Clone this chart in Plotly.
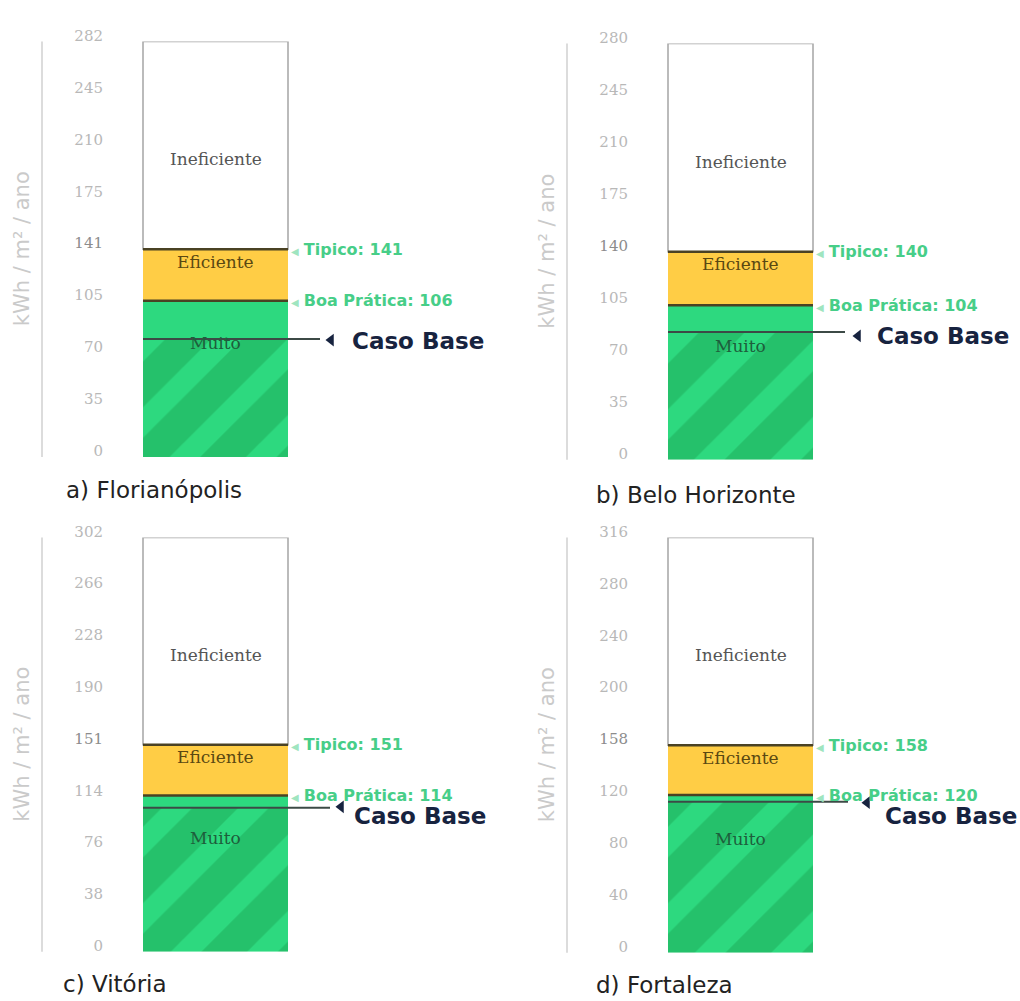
import plotly.graph_objects as go

# ---------------- data ----------------
cities = ["a) Florianópolis", "b) Belo Horizonte", "c) Vitória", "d) Fortaleza"]
axis_max = [282, 280, 302, 316]
tipico = [141, 140, 151, 158]
boa_pratica = [106, 104, 114, 120]
caso_base = [80, 86, 105, 115]
tick_labels = [
    [0, 35, 70, 105, 141, 175, 210, 245, 282],
    [0, 35, 70, 105, 140, 175, 210, 245, 280],
    [0, 38, 76, 114, 151, 190, 228, 266, 302],
    [0, 40, 80, 120, 158, 200, 240, 280, 316],
]
band_labels = ["Ineficiente", "Eficiente", "Muito"]
tipico_label = "Tipico"
boa_label = "Boa Prática"
caso_label = "Caso Base"
y_title = "kWh / m² / ano"

# ---------------- layout (pixels) ----------------
W, H = 1020, 1001
BAR_PX = 145.0
dom_x = [(104, 504), (629, 1020), (104, 504), (629, 1020)]
dom_y = [(27, 450), (29, 453), (532, 954), (532, 955)]
axis_line_px = [42, 567, 42, 567]
ytitle_px = [22, 547, 22, 547]
title_pos = [(64, 484), (594, 489), (61, 987), (594, 988)]
caso_line_ext = [32, 32, 42, 35]
caso_arrow_px = [43, 45, 53, 54]
caso_arrow_dy = [1, 4, -1, 1]      # pixels, positive = down
caso_text_px = [62, 62, 64, 70]
caso_text_dy = [2, 4, 8, 14]       # pixels, positive = down

C_LIGHT = "#2DD97F"
C_DARK = "#1DA957"
C_YELLOW = "#FFCD45"
C_BORDER = "#A5A5A5"
C_LINE = "#4A4224"
C_NAVY = "#17233F"
C_LABEL = "#47CE88"
SANS = "DejaVu Sans"
SERIF = "DejaVu Serif"

fig = go.Figure()
shapes = []
annotations = []
layout_axes = {}

for i in range(4):
    n = "" if i == 0 else str(i + 1)
    xa, ya = "x" + n, "y" + n
    x0p, x1p = dom_x[i]
    y0p, y1p = dom_y[i]
    units = (x1p - x0p) / BAR_PX
    xr0 = -0.5 - 39 / BAR_PX
    mx = axis_max[i]
    data_per_px = mx / (y1p - y0p)

    def px_units(p):
        return 0.5 + p / BAR_PX

    # stacked segments
    fig.add_trace(go.Bar(
        x=[0], y=[caso_base[i]], base=[0], width=1, xaxis=xa, yaxis=ya,
        marker=dict(color=C_LIGHT, line=dict(width=0),
                    pattern=dict(shape="/", fgcolor=C_DARK, bgcolor=C_LIGHT,
                                 size=54, solidity=0.6)),
        showlegend=False, hoverinfo="skip"))
    fig.add_trace(go.Bar(
        x=[0], y=[boa_pratica[i] - caso_base[i]], base=[caso_base[i]], width=1,
        xaxis=xa, yaxis=ya, marker=dict(color=C_LIGHT, line=dict(width=0)),
        showlegend=False, hoverinfo="skip"))
    fig.add_trace(go.Bar(
        x=[0], y=[tipico[i] - boa_pratica[i]], base=[boa_pratica[i]], width=1,
        xaxis=xa, yaxis=ya, marker=dict(color=C_YELLOW, line=dict(width=0)),
        showlegend=False, hoverinfo="skip"))
    fig.add_trace(go.Bar(
        x=[0], y=[mx - tipico[i]], base=[tipico[i]], width=1,
        xaxis=xa, yaxis=ya,
        marker=dict(color="white", line=dict(width=1.5, color=C_BORDER)),
        showlegend=False, hoverinfo="skip"))
    # caso base arrow marker
    fig.add_trace(go.Scatter(
        x=[px_units(caso_arrow_px[i])],
        y=[caso_base[i] - caso_arrow_dy[i] * data_per_px],
        xaxis=xa, yaxis=ya, mode="markers",
        marker=dict(symbol="triangle-left", size=11, color=C_NAVY, line=dict(width=0)),
        showlegend=False, hoverinfo="skip"))

    tickvals = [k * mx / 8 for k in range(9)]
    ticktext = []
    for v in tick_labels[i]:
        if v == tipico[i]:
            ticktext.append('<span style="color:#8C8C8C">%d</span>' % v)
        else:
            ticktext.append(str(v))

    layout_axes["xaxis" + n] = dict(
        domain=[x0p / W, x1p / W], range=[xr0, xr0 + units], anchor=ya,
        visible=False, fixedrange=True)
    layout_axes["yaxis" + n] = dict(
        domain=[1 - y1p / H, 1 - y0p / H], range=[0, mx], anchor=xa,
        tickvals=tickvals, ticktext=ticktext, showgrid=False, zeroline=False,
        showline=False, ticks="", ticklabelshift=-6,
        tickfont=dict(family=SERIF, size=15, color="#B8B8B8"),
        fixedrange=True)

    # boundary lines
    for v in (tipico[i], boa_pratica[i]):
        shapes.append(dict(type="line", xref=xa, yref=ya, x0=-0.5, x1=0.5,
                           y0=v, y1=v, line=dict(color=C_LINE, width=2.5)))
    # caso base line
    shapes.append(dict(type="line", xref=xa, yref=ya, x0=-0.5,
                       x1=px_units(caso_line_ext[i]), y0=caso_base[i], y1=caso_base[i],
                       line=dict(color="#3C4A46", width=2)))
    # axis line
    shapes.append(dict(type="line", xref="paper", yref="paper",
                       x0=axis_line_px[i] / W, x1=axis_line_px[i] / W,
                       y0=1 - y1p / H, y1=1 - y0p / H,
                       line=dict(color="#D0D0D0", width=1.5)))

    # band labels
    for txt, fy, col in zip(band_labels, (0.745, 0.47, 0.245),
                            ("#555555", "#5A4812", "#1E5E3C")):
        annotations.append(dict(
            text=txt, xref=xa, yref=ya + " domain", x=0, y=fy, showarrow=False,
            font=dict(family=SERIF, size=17, color=col)))

    # tipico / boa pratica labels
    for lab, v in ((tipico_label, tipico[i]), (boa_label, boa_pratica[i])):
        annotations.append(dict(
            text='<span style="font-size:10px;color:#9FE5C0">◀</span> <b>%s: %d</b>' % (lab, v),
            xref=xa, yref=ya, x=0.5, y=v, xanchor="left", yanchor="middle",
            xshift=1, showarrow=False,
            font=dict(family=SANS, size=16, color=C_LABEL)))

    # caso base label
    annotations.append(dict(
        text="<b>%s</b>" % caso_label, xref=xa, yref=ya,
        x=px_units(caso_text_px[i]), y=caso_base[i], xanchor="left",
        yanchor="middle", yshift=-caso_text_dy[i], showarrow=False,
        font=dict(family=SANS, size=23, color=C_NAVY)))

    # y title
    annotations.append(dict(
        text=y_title, xref="paper", yref="paper", x=ytitle_px[i] / W,
        y=1 - (y0p + y1p) / 2 / H, textangle=-90, showarrow=False,
        xanchor="center", yanchor="middle",
        font=dict(family=SANS, size=21, color="#CACACA")))

    # panel title
    tx, ty = title_pos[i]
    annotations.append(dict(
        text=cities[i], xref="paper", yref="paper", x=tx / W, y=1 - ty / H,
        xanchor="left", yanchor="middle", showarrow=False,
        font=dict(family=SANS, size=23, color="#222222")))

fig.update_layout(
    width=W, height=H, autosize=False, margin=dict(l=0, r=0, t=0, b=0),
    paper_bgcolor="white", plot_bgcolor="white",
    barmode="overlay", shapes=shapes, annotations=annotations,
    **layout_axes)

fig.write_html("out.html", config={"displayModeBar": False, "responsive": False},
               post_script="document.body.style.margin='0';")
